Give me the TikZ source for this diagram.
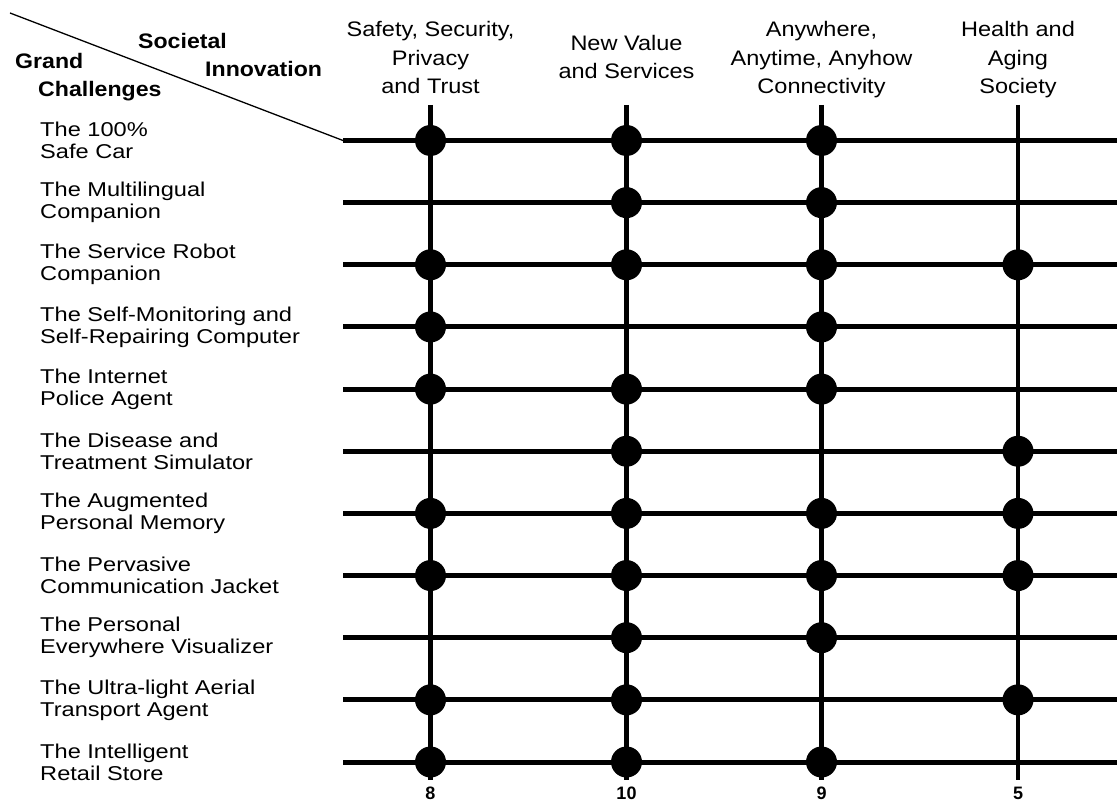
\documentclass[tikz,border=0pt]{standalone}
\usepackage{fontspec}
\setmainfont{Liberation Sans}
\begin{document}
\begin{tikzpicture}[x=1pt,y=-1pt,
	rowlab/.style={anchor=west,align=left,inner sep=0pt,xscale=1.18,font=\fontsize{20}{22}\selectfont},
	collab/.style={anchor=north,align=center,inner sep=0pt,xscale=1.12,font=\fontsize{21}{28.3}\selectfont},
	corner/.style={anchor=base west,inner sep=0pt,xscale=1.1,font=\fontsize{21}{25}\selectfont\bfseries},
	count/.style={anchor=base,inner sep=0pt,font=\fontsize{18}{20}\selectfont\bfseries},
	dot/.style={circle,fill=black,inner sep=0pt,minimum size=31pt}]
	\useasboundingbox (0,0) rectangle (1117,802);
	\foreach \c/\x in {1/430.5,2/626.5,3/821.5,4/1018}{
		\coordinate (c\c t) at (\x,105);
		\coordinate (c\c b) at (\x,780);
	}
	\foreach \r in {1,...,11}{
		\coordinate (r\r s) at (343,{140.5+62.15*(\r-1)});
		\coordinate (r\r e) at (1117,{140.5+62.15*(\r-1)});
	}
	\draw[line width=1.3pt] (10,13) -- (r1s);
	\node[corner] (grand) at (15,68.3) {Grand};
	\node[corner] (chal) at (38,96.7) {Challenges};
	\node[corner] (soc) at (138,49) {Societal};
	\node[corner] (inno) at (205,77) {Innovation};
	\foreach \c in {1,...,4}\draw[line width=4.5pt] (c\c t) -- (c\c b);
	\foreach \r in {1,...,11}\draw[line width=5pt] (r\r s) -- (r\r e);
	\foreach \r/\cols in {1/{1,2,3},2/{2,3},3/{1,2,3,4},4/{1,3},5/{1,2,3},6/{2,4},
		7/{1,2,3,4},8/{1,2,3,4},9/{2,3},10/{1,2,4},11/{1,2,3}}
		\foreach \c in \cols \node[dot] (d\r-\c) at (c\c t |- r\r s) {};
	\foreach \r/\txt in {1/{The 100\%\\Safe Car},2/{The Multilingual\\Companion},
		3/{The Service Robot\\Companion},4/{The Self-Monitoring and\\Self-Repairing Computer},
		5/{The Internet\\Police Agent},6/{The Disease and\\Treatment Simulator},
		7/{The Augmented\\Personal Memory},8/{The Pervasive\\Communication Jacket},
		9/{The Personal\\Everywhere Visualizer},10/{The Ultra-light Aerial\\Transport Agent},
		11/{The Intelligent\\Retail Store}}
		\node[rowlab] (lab\r) at (40,{140.5+62.15*(\r-1)}) {\txt};
	\node[collab] (h1) at (c1t |- 0,21.4) {Safety, Security,\\Privacy\\and Trust};
	\node[collab] (h2) at (c2t |- 0,35) {New Value\\and Services};
	\node[collab] (h3) at (c3t |- 0,21.4) {Anywhere,\\Anytime, Anyhow\\Connectivity};
	\node[collab] (h4) at (c4t |- 0,21.4) {Health and\\Aging\\Society};
	\foreach \c/\n in {1/8,2/10,3/9,4/5}\node[count] (n\c) at (c\c b |- 0,799.5) {\n};
	%\draw[red] (0,0) rectangle (1117,802);
\end{tikzpicture}
\end{document}
